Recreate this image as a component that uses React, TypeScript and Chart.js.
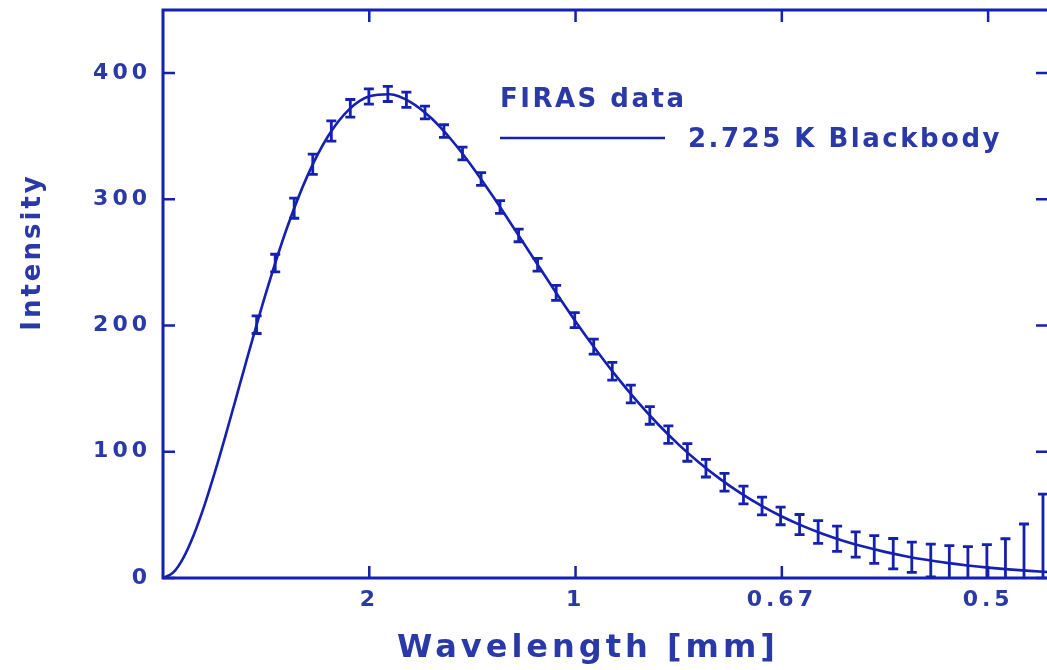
import React, { useEffect, useRef } from "react";
import { Chart, registerables } from "chart.js";

Chart.register(...registerables);

// FIRAS measurements: frequency [cm^-1], intensity, error half-width (as drawn)
const firasFreq = [
  2.27, 2.72, 3.18, 3.63, 4.08, 4.54, 4.99, 5.45, 5.9, 6.35, 6.81, 7.26, 7.71, 8.17,
  8.62, 9.08, 9.53, 9.98, 10.44, 10.89, 11.34, 11.8, 12.25, 12.71, 13.16, 13.61,
  14.07, 14.52, 14.97, 15.43, 15.88, 16.34, 16.79, 17.24, 17.7, 18.15, 18.61, 19.06,
  19.51, 19.97, 20.42, 20.87, 21.33,
];
const firasIntensity = [
  200.7, 249.5, 293.0, 327.8, 354.1, 372.1, 381.5, 383.5, 378.9, 368.8, 354.1, 336.3,
  316.1, 293.9, 271.4, 248.2, 225.9, 204.3, 183.3, 163.8, 145.8, 128.8, 113.6, 99.5,
  87.0, 75.9, 65.8, 57.0, 49.2, 42.3, 36.4, 31.1, 26.6, 22.6, 19.3, 16.4, 13.8, 11.7,
  9.9, 8.4, 7.1, 5.8, 4.5,
];
const firasError = [
  7, 7, 8, 8, 8, 7, 6, 6, 6, 5, 5, 5, 5, 5, 5, 5, 6, 6, 6, 7, 7, 7, 7, 7, 7, 7, 7, 7, 7,
  8, 9, 10, 10, 11, 12, 12, 13, 14, 15, 18, 24, 37, 62,
];

// 2.725 K blackbody curve
const bbFreq = [
  0, 0.25, 0.5, 0.75, 1, 1.25, 1.5, 1.75, 2, 2.5, 3, 3.5, 4, 4.5, 5, 5.5, 6, 6.5, 7, 7.5,
  8, 8.5, 9, 9.5, 10, 10.5, 11, 11.5, 12, 12.5, 13, 13.5, 14, 14.5, 15, 15.5, 16, 16.5,
  17, 17.5, 18, 18.5, 19, 19.5, 20, 20.5, 21, 21.5,
];
const bbIntensity = [
  0, 4.4, 16.4, 34.5, 57.1, 83.0, 111.0, 140.2, 169.5, 226.3, 276.9, 318.6, 350.0, 370.9,
  381.6, 383.3, 377.1, 364.4, 346.8, 325.7, 302.2, 277.4, 252.3, 227.4, 203.3, 180.6,
  159.3, 139.7, 121.8, 105.7, 91.3, 78.5, 67.2, 57.3, 48.7, 41.3, 34.9, 29.4, 24.7, 20.7,
  17.3, 14.4, 12.0, 9.95, 8.24, 6.82, 5.63, 4.64,
];

const xTickValues = [5, 10, 15, 20];
const xTickLabels = ["2", "1", "0.67", "0.5"];
const yTickValues = [0, 100, 200, 300, 400];
const legendLabels = ["FIRAS data", "2.725 K Blackbody"];
const xTitle = "Wavelength [mm]";
const yTitle = "Intensity";

const LINE = "#1420b0";
const TEXT = "#2a39a8";
const FONT = "'DejaVu Sans', 'Liberation Sans', sans-serif";

const framePlugin = {
  id: "frame",
  beforeDraw(chart: any) {
    chart.ctx.letterSpacing = "4px";
  },
  afterDatasetsDraw(chart: any) {
    const { ctx, chartArea: a, scales } = chart;
    const xs = scales.x;
    const ys = scales.y;
    ctx.save();
    ctx.letterSpacing = "0px";
    // error bars
    ctx.beginPath();
    ctx.rect(a.left, a.top, a.right - a.left, a.bottom - a.top);
    ctx.clip();
    ctx.strokeStyle = LINE;
    ctx.lineWidth = 2.8;
    const ds = chart.data.datasets[1];
    ds.data.forEach((p: any, i: number) => {
      const e = ds.errors[i];
      const px = xs.getPixelForValue(p.x);
      const top = ys.getPixelForValue(p.y + e);
      const bot = ys.getPixelForValue(p.y - e);
      ctx.beginPath();
      ctx.moveTo(px, top);
      ctx.lineTo(px, bot);
      ctx.moveTo(px - 5, top);
      ctx.lineTo(px + 5, top);
      ctx.moveTo(px - 5, bot);
      ctx.lineTo(px + 5, bot);
      ctx.stroke();
    });
    ctx.restore();

    ctx.save();
    ctx.letterSpacing = "0px";
    ctx.strokeStyle = LINE;
    ctx.lineWidth = 3;
    ctx.strokeRect(a.left, a.top, a.right - a.left, a.bottom - a.top);
    ctx.lineWidth = 2.5;
    ctx.beginPath();
    yTickValues.forEach((v) => {
      const py = ys.getPixelForValue(v);
      ctx.moveTo(a.left, py);
      ctx.lineTo(a.left + 12, py);
      ctx.moveTo(a.right - 14, py);
      ctx.lineTo(a.right, py);
    });
    xTickValues.forEach((v) => {
      const px = xs.getPixelForValue(v);
      ctx.moveTo(px, a.bottom);
      ctx.lineTo(px, a.bottom - 12);
      ctx.moveTo(px, a.top);
      ctx.lineTo(px, a.top + 12);
    });
    ctx.stroke();

    // legend
    ctx.fillStyle = TEXT;
    ctx.font = `bold 26px ${FONT}`;
    ctx.letterSpacing = "2.5px";
    ctx.textBaseline = "alphabetic";
    ctx.textAlign = "left";
    ctx.fillText(legendLabels[0], 500, 107);
    ctx.beginPath();
    ctx.lineWidth = 2.5;
    ctx.moveTo(500, 138);
    ctx.lineTo(665, 138);
    ctx.stroke();
    ctx.fillText(legendLabels[1], 688, 147);

    // axis titles
    ctx.font = `bold 32px ${FONT}`;
    ctx.letterSpacing = "4px";
    ctx.textAlign = "center";
    ctx.fillText(xTitle, 588, 657);

    ctx.translate(33, 252);
    ctx.rotate(-Math.PI / 2);
    ctx.font = `bold 26px ${FONT}`;
    ctx.letterSpacing = "3px";
    ctx.textBaseline = "middle";
    ctx.fillText(yTitle, 0, 0);
    ctx.restore();
  },
};

export default function App() {
  const canvasRef = useRef<HTMLCanvasElement | null>(null);

  useEffect(() => {
    if (!canvasRef.current) return;
    const chart = new Chart(canvasRef.current, {
      type: "scatter",
      data: {
        datasets: [
          {
            label: legendLabels[1],
            data: bbFreq.map((f, i) => ({ x: f, y: bbIntensity[i] })),
            showLine: true,
            borderColor: LINE,
            borderWidth: 2.6,
            pointRadius: 0,
            cubicInterpolationMode: "monotone",
            fill: false,
          },
          {
            label: legendLabels[0],
            data: firasFreq.map((f, i) => ({ x: f, y: firasIntensity[i] })),
            errors: firasError,
            showLine: false,
            pointRadius: 0,
            borderColor: LINE,
          } as any,
        ],
      },
      options: {
        animation: false,
        responsive: true,
        maintainAspectRatio: false,
        layout: { padding: { top: 10, right: 12, left: 0, bottom: 0 } },
        plugins: {
          legend: { display: false },
          tooltip: { enabled: false },
        },
        scales: {
          x: {
            type: "linear",
            min: 0,
            max: 21.5,
            afterBuildTicks: (s: any) => {
              s.ticks = xTickValues.map((v) => ({ value: v }));
            },
            afterFit: (s: any) => {
              s.height = 92;
              s.paddingLeft = 0;
              s.paddingRight = 0;
            },
            grid: { display: false, drawTicks: false },
            border: { display: false },
            ticks: {
              padding: 9,
              color: TEXT,
              font: { family: FONT, size: 22, weight: "bold" },
              callback: (v: any) => {
                const i = xTickValues.indexOf(Number(v));
                return i >= 0 ? xTickLabels[i] : "";
              },
            },
          },
          y: {
            type: "linear",
            min: 0,
            max: 450,
            afterBuildTicks: (s: any) => {
              s.ticks = yTickValues.map((v) => ({ value: v }));
            },
            afterFit: (s: any) => {
              s.width = 163;
              s.paddingTop = 0;
              s.paddingBottom = 0;
            },
            grid: { display: false, drawTicks: false },
            border: { display: false },
            ticks: {
              padding: 12,
              color: TEXT,
              font: { family: FONT, size: 22, weight: "bold" },
            },
          },
        },
      },
      plugins: [framePlugin],
    });
    return () => chart.destroy();
  }, []);

  return (
    <div
      style={{
        position: "fixed",
        left: 0,
        top: 0,
        width: 1047,
        height: 670,
        overflow: "hidden",
        background: "#fff",
      }}
    >
      <div style={{ position: "relative", width: 1062, height: 670 }}>
        <canvas ref={canvasRef} />
      </div>
    </div>
  );
}
